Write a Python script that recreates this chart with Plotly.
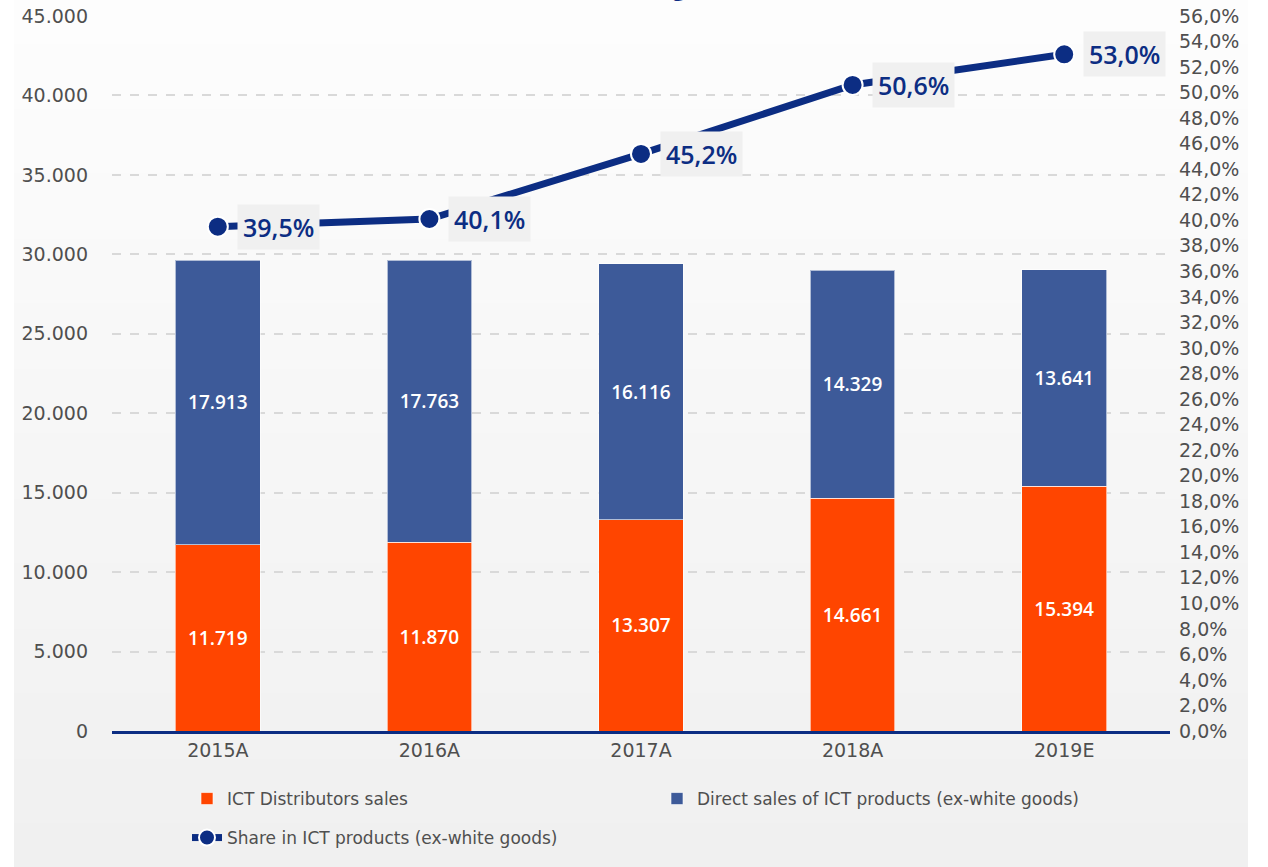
import plotly.graph_objects as go

categories = ["2015A", "2016A", "2017A", "2018A", "2019E"]
distributors = [11719, 11870, 13307, 14661, 15394]
direct = [17913, 17763, 16116, 14329, 13641]
share = [0.395, 0.401, 0.452, 0.506, 0.530]

NAVY = "#0c2d83"
ORANGE = "#ff4500"
BLUE = "#3d5a99"
GRAY_TXT = "#4f4f4f"
FONT = "Open Sans"
TFONT = "DejaVu Sans"

W, H = 1268, 867
L, R, T, B = 112, 98, 16, 136
PW, PH = W - L - R, H - T - B


def px2x(px):
    return (px - L) / PW


def px2y(py):
    return (H - B - py) / PH


def fmt_int(v):
    return f"{v:,}".replace(",", ".")


def fmt_pct(v):
    return f"{v * 100:.1f}%".replace(".", ",")


fig = go.Figure()

fig.add_trace(go.Bar(
    x=categories, y=distributors, name="ICT Distributors sales",
    marker=dict(color=ORANGE, line=dict(color="rgba(255,255,255,0.6)", width=1)),
    text=[fmt_int(v) for v in distributors], textposition="inside",
    insidetextanchor="middle", textangle=0,
    textfont=dict(color="white", size=19, family=FONT, weight=600),
    width=0.4, legend="legend",
))
fig.add_trace(go.Bar(
    x=categories, y=direct, name="Direct sales of ICT products (ex-white goods)",
    marker=dict(color=BLUE, line=dict(color="rgba(255,255,255,0.6)", width=1)),
    text=[fmt_int(v) for v in direct], textposition="inside",
    insidetextanchor="middle", textangle=0,
    textfont=dict(color="white", size=19, family=FONT, weight=600),
    width=0.4, legend="legend",
))
fig.add_trace(go.Scatter(
    x=categories, y=share, yaxis="y2", name="Share in ICT products (ex-white goods)",
    mode="lines+markers",
    line=dict(color=NAVY, width=7),
    marker=dict(size=20, color=NAVY, line=dict(color="white", width=2)),
    legend="legend2",
))

annotations = []
for c, v in zip(categories, share):
    annotations.append(dict(
        x=c, y=v, xref="x", yref="y2", text=fmt_pct(v), showarrow=False,
        xanchor="left", yanchor="middle", xshift=19,
        bgcolor="#f0f0f0", borderpad=5,
        font=dict(color=NAVY, size=25, family=FONT, weight=600),
    ))

# partially visible title (cut off at top in reference)
annotations.append(dict(
    x=px2x(631), xref="paper", y=px2y(4), yref="paper", yanchor="bottom",
    text="(€m, ex-white goods)", showarrow=False,
    font=dict(color=NAVY, size=22, family=FONT, weight=700),
))

# background gradient panel
shapes = []
n = 40
top_c = (253, 253, 253)
bot_c = (240, 240, 240)
for i in range(n):
    t = i / (n - 1)
    c = tuple(round(top_c[k] + (bot_c[k] - top_c[k]) * t) for k in range(3))
    y0 = H * i / n
    y1 = H * (i + 1) / n + 1
    shapes.append(dict(
        type="rect", xref="paper", yref="paper",
        x0=px2x(14), x1=px2x(1248), y0=px2y(y1), y1=px2y(y0),
        fillcolor=f"rgb{c}", line=dict(width=0), layer="below",
    ))

tick_font = dict(size=19, color=GRAY_TXT, family=TFONT)
leg_font = dict(size=17, color=GRAY_TXT, family=TFONT)

fig.update_layout(
    width=W, height=H,
    margin=dict(l=L, r=R, t=T, b=B, autoexpand=False),
    barmode="stack",
    separators=",.",
    paper_bgcolor="white",
    plot_bgcolor="rgba(0,0,0,0)",
    font=dict(family=TFONT, color=GRAY_TXT, size=17),
    xaxis=dict(
        showline=True, linecolor=NAVY, linewidth=3,
        tickfont=tick_font, showgrid=False, ticks="", automargin=False,
    ),
    yaxis=dict(
        range=[0, 45000], dtick=5000, tickformat=",d",
        showgrid=True, gridcolor="#d9d9d9", griddash="dash", gridwidth=1.5,
        zeroline=False, showline=False, automargin=False,
        tickfont=tick_font, ticklabelstandoff=23,
    ),
    yaxis2=dict(
        range=[0, 0.56], dtick=0.02, tickformat=".1%",
        overlaying="y", side="right", showgrid=False, zeroline=False,
        automargin=False, tickfont=tick_font, ticklabelstandoff=8,
    ),
    legend=dict(
        orientation="h", x=px2x(187), y=px2y(781), xanchor="left", yanchor="top",
        entrywidth=425, entrywidthmode="pixels",
        font=leg_font, bgcolor="rgba(0,0,0,0)", traceorder="normal",
    ),
    legend2=dict(
        orientation="h", x=px2x(187), y=px2y(820), xanchor="left", yanchor="top",
        font=leg_font, bgcolor="rgba(0,0,0,0)",
    ),
    annotations=annotations,
    shapes=shapes,
    showlegend=True,
    hovermode=False,
)

fig.write_html(
    "out.html",
    config={"displayModeBar": False},
    post_script="document.body.style.margin='0';",
)
